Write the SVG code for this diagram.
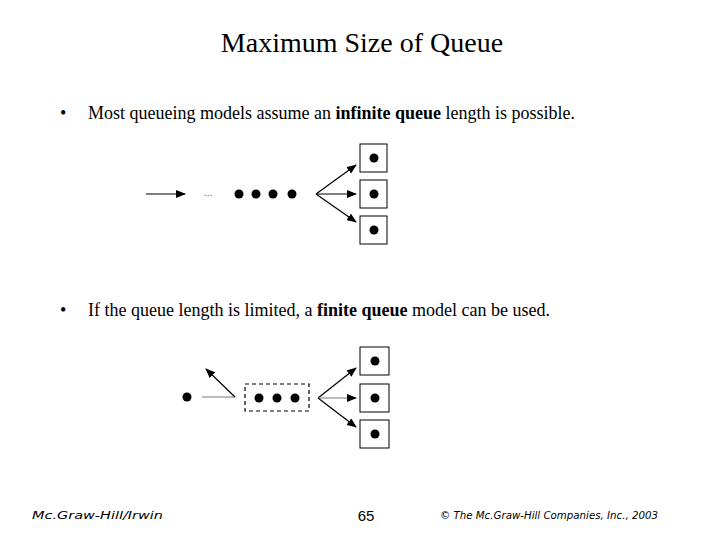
<svg xmlns="http://www.w3.org/2000/svg" width="720" height="540" viewBox="0 0 720 540">
<defs><marker id="ah" markerWidth="10" markerHeight="8" refX="9" refY="4" orient="auto" markerUnits="userSpaceOnUse"><path d="M0,0 L10,4 L0,8 Z" fill="#000"/></marker>
<style>.t{font-family:"Liberation Serif",serif;fill:#000}.s{font-family:"DejaVu Sans",sans-serif;font-style:italic;font-size:11px}.b{fill:#fff;stroke:#000;stroke-width:1}.c{stroke:#000;stroke-width:1.2;fill:none}</style></defs>
<rect width="720" height="540" fill="#fff"/>
<text class="t" x="362" y="52" font-size="28" text-anchor="middle">Maximum Size of Queue</text>
<text class="t" x="60" y="119" font-size="18">•</text>
<text class="t" x="88" y="119" font-size="18">Most queueing models assume an <tspan font-weight="bold">infinite queue</tspan> length is possible.</text>
<text class="t" x="60" y="316" font-size="18">•</text>
<text class="t" x="88" y="316" font-size="18">If the queue length is limited, a <tspan font-weight="bold">finite queue</tspan> model can be used.</text>
<g id="servers1">
<rect class="b" x="360" y="144" width="27" height="28"/><circle cx="374" cy="158" r="4.5"/>
<rect class="b" x="360" y="180" width="27" height="28"/><circle cx="374" cy="194" r="4.5"/>
<rect class="b" x="360" y="216" width="27" height="28"/><circle cx="374" cy="230" r="4.5"/>
</g>
<g id="queue1">
<circle cx="239" cy="194" r="4.5"/><circle cx="256" cy="194" r="4.5"/><circle cx="273" cy="194" r="4.5"/><circle cx="292" cy="194" r="4.5"/>
<text x="208" y="196" font-family="Liberation Sans,sans-serif" font-size="11" fill="#666" text-anchor="middle">...</text>
</g>
<g id="servers2">
<rect class="b" x="360" y="347" width="29" height="28"/><circle cx="375" cy="361" r="4.5"/>
<rect class="b" x="360" y="384" width="29" height="28"/><circle cx="375" cy="398" r="4.5"/>
<rect class="b" x="360" y="420" width="29" height="28"/><circle cx="375" cy="434" r="4.5"/>
</g>
<g id="queue2">
<rect x="245" y="384" width="64" height="27" fill="none" stroke="#000" stroke-width="1.2" stroke-dasharray="4,3"/>
<circle cx="259" cy="398" r="4.5"/><circle cx="277" cy="398" r="4.5"/><circle cx="295" cy="398" r="4.5"/>
<circle cx="187" cy="397" r="4.5"/>
</g>
<g id="connectors">
<line class="c" x1="146" y1="194" x2="185" y2="194" marker-end="url(#ah)"/>
<line class="c" x1="316" y1="194" x2="356" y2="165" marker-end="url(#ah)"/>
<line class="c" x1="316" y1="194" x2="356" y2="194" marker-end="url(#ah)"/>
<line class="c" x1="316" y1="194" x2="356" y2="222" marker-end="url(#ah)"/>
<line x1="202" y1="397" x2="235" y2="397" stroke="#777" stroke-width="1"/>
<line class="c" x1="235" y1="397" x2="206" y2="369" marker-end="url(#ah)"/>
<line class="c" x1="318" y1="398" x2="356" y2="368" marker-end="url(#ah)"/>
<line x1="318" y1="398" x2="356" y2="398" stroke="#777" stroke-width="1" marker-end="url(#ah)"/>
<line class="c" x1="318" y1="398" x2="356" y2="427" marker-end="url(#ah)"/>
</g>
<text class="s" x="32" y="519" textLength="131" lengthAdjust="spacingAndGlyphs">Mc.Graw-Hill/Irwin</text>
<text x="366" y="521" font-family="Liberation Sans,sans-serif" font-size="15" text-anchor="middle">65</text>
<text class="s" x="440" y="519" textLength="218" lengthAdjust="spacingAndGlyphs">© The Mc.Graw-Hill Companies, Inc., 2003</text>
</svg>
